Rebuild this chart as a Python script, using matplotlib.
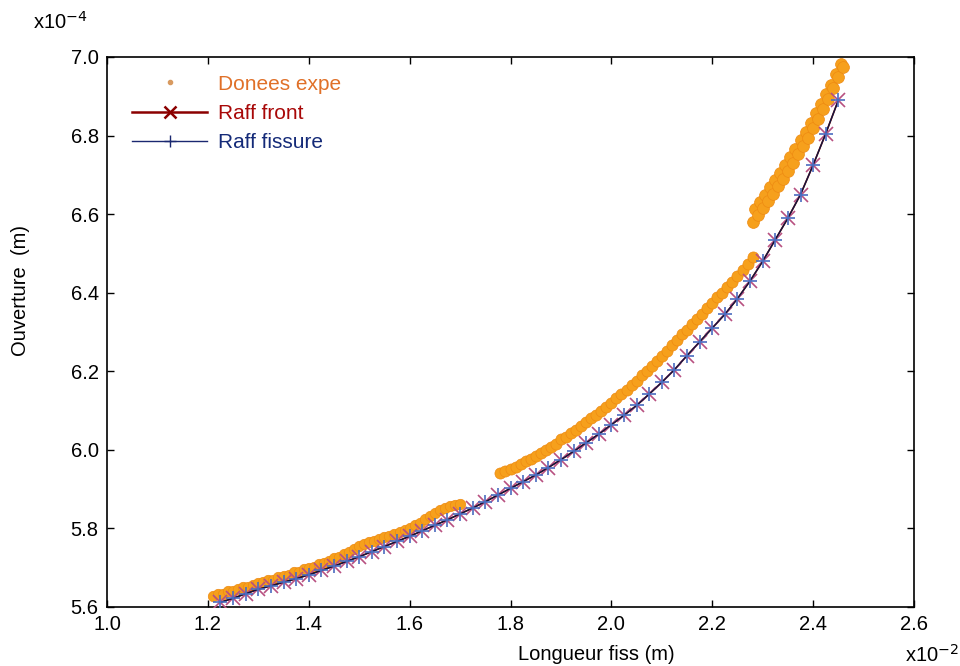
import matplotlib
matplotlib.use("Agg")
import matplotlib.pyplot as plt
from matplotlib.lines import Line2D

plt.rcParams['font.family'] = ['Liberation Sans', 'DejaVu Sans']

# ---- data (x in 1e-2 m, y in 1e-4 m) ----
model_x = [1.225, 1.250, 1.275, 1.300, 1.325, 1.350, 1.375, 1.400, 1.425, 1.450,
           1.475, 1.500, 1.525, 1.550, 1.575, 1.600, 1.625, 1.650, 1.675, 1.700,
           1.725, 1.750, 1.775, 1.800, 1.825, 1.850, 1.875, 1.900, 1.925, 1.950,
           1.975, 2.000, 2.025, 2.050, 2.075, 2.100, 2.125, 2.150, 2.175, 2.200,
           2.225, 2.250, 2.275, 2.300, 2.325, 2.350, 2.375, 2.400, 2.425, 2.450]
model_front_y = [5.612, 5.622, 5.634, 5.645, 5.654, 5.663, 5.672, 5.682, 5.693, 5.704,
                 5.716, 5.728, 5.741, 5.754, 5.767, 5.780, 5.794, 5.808, 5.822, 5.837,
                 5.852, 5.868, 5.885, 5.902, 5.919, 5.936, 5.955, 5.975, 5.996, 6.018,
                 6.040, 6.064, 6.088, 6.113, 6.142, 6.172, 6.204, 6.240, 6.275, 6.310,
                 6.345, 6.385, 6.430, 6.480, 6.535, 6.590, 6.650, 6.725, 6.805, 6.890]
model_fissure_y = list(model_front_y)

expe_x_1 = [1.21, 1.22, 1.23, 1.24, 1.25, 1.26, 1.27, 1.28, 1.29, 1.30,
            1.31, 1.32, 1.33, 1.34, 1.35, 1.36, 1.37, 1.38, 1.39, 1.40,
            1.41, 1.42, 1.43, 1.44, 1.45, 1.46, 1.47, 1.48, 1.49, 1.50,
            1.51, 1.52, 1.53, 1.54, 1.55, 1.56, 1.57, 1.58, 1.59, 1.60,
            1.61, 1.62, 1.63, 1.64, 1.65, 1.66, 1.67, 1.68, 1.69, 1.70]
expe_y_1 = [5.628, 5.632, 5.634, 5.640, 5.641, 5.646, 5.650, 5.652, 5.657, 5.660,
            5.663, 5.668, 5.670, 5.676, 5.678, 5.682, 5.688, 5.690, 5.696, 5.699,
            5.703, 5.709, 5.712, 5.718, 5.724, 5.728, 5.735, 5.740, 5.748, 5.755,
            5.760, 5.765, 5.768, 5.774, 5.777, 5.782, 5.786, 5.791, 5.797, 5.802,
            5.808, 5.815, 5.824, 5.832, 5.840, 5.848, 5.852, 5.856, 5.860, 5.862]

expe_x_2 = [1.78, 1.79, 1.80, 1.81, 1.82, 1.83, 1.84, 1.85, 1.86, 1.87,
            1.88, 1.89, 1.90, 1.91, 1.92, 1.93, 1.94, 1.95, 1.96, 1.97,
            1.98, 1.99, 2.00, 2.01, 2.02, 2.03, 2.04, 2.05, 2.06, 2.07,
            2.08, 2.09, 2.10, 2.11, 2.12, 2.13, 2.14, 2.15, 2.16, 2.17,
            2.18, 2.19, 2.20, 2.21, 2.22, 2.23, 2.24, 2.25, 2.26, 2.27, 2.28]
expe_y_2 = [5.940, 5.946, 5.951, 5.957, 5.964, 5.971, 5.976, 5.985, 5.991, 6.000,
            6.008, 6.015, 6.027, 6.033, 6.044, 6.050, 6.062, 6.070, 6.080, 6.088,
            6.100, 6.110, 6.120, 6.132, 6.142, 6.153, 6.165, 6.176, 6.190, 6.202,
            6.214, 6.226, 6.240, 6.252, 6.266, 6.280, 6.294, 6.306, 6.320, 6.333,
            6.347, 6.361, 6.374, 6.388, 6.400, 6.414, 6.428, 6.442, 6.458, 6.474, 6.490]

expe_x_3 = [2.280, 2.285, 2.290, 2.295, 2.300, 2.305, 2.310, 2.315, 2.320, 2.325,
            2.330, 2.335, 2.340, 2.345, 2.350, 2.355, 2.360, 2.365, 2.370, 2.375,
            2.380, 2.385, 2.390, 2.395, 2.400, 2.405, 2.410, 2.415, 2.420, 2.425,
            2.430, 2.435, 2.440, 2.445, 2.450, 2.455, 2.460]
expe_y_3 = [6.580, 6.612, 6.598, 6.630, 6.615, 6.650, 6.634, 6.668, 6.652, 6.686,
            6.672, 6.705, 6.690, 6.724, 6.710, 6.745, 6.730, 6.766, 6.752, 6.788,
            6.773, 6.810, 6.795, 6.833, 6.820, 6.857, 6.843, 6.880, 6.868, 6.905,
            6.893, 6.930, 6.920, 6.958, 6.948, 6.982, 6.975]

x_ticks = [1.0, 1.2, 1.4, 1.6, 1.8, 2.0, 2.2, 2.4, 2.6]
y_ticks = [5.6, 5.8, 6.0, 6.2, 6.4, 6.6, 6.8, 7.0]
labels = ["Donees expe", "Raff front", "Raff fissure"]

# ---- figure ----
fig = plt.figure(figsize=(9.6, 6.66), dpi=100)
ax = fig.add_axes([107/960, 1-607/666, (914-107)/960, (607-57)/666])

orange = '#f6a01c'
orange_edge = '#ee8a12'
for xs, ys, m in [(expe_x_1, expe_y_1, 7.5), (expe_x_2, expe_y_2, 8.0), (expe_x_3, expe_y_3, 8.5)]:
    ax.plot(xs, ys, linestyle='none', marker='o', ms=m, mfc=orange, mec=orange_edge,
            mew=0.5, zorder=2)

ax.plot(model_x, model_front_y, color='#8b0000', lw=1.2, marker='x', ms=9.5, mec='#b85080',
        mew=1.2, zorder=3)
ax.plot(model_x, model_fissure_y, color='#101840', lw=1.0, marker='+', ms=9.5, mec='#4a6cc0',
        mew=1.2, zorder=4)

ax.set_xlim(1.0, 2.6)
ax.set_ylim(5.6, 7.0)
ax.set_xticks(x_ticks)
ax.set_yticks(y_ticks)
fs = 14.5
ax.set_xticklabels([f"{v:.1f}" for v in x_ticks], fontsize=fs)
ax.set_yticklabels([f"{v:.1f}" for v in y_ticks], fontsize=fs)
ax.tick_params(direction='in', top=True, right=True, length=5, width=1, pad=6)
for s in ax.spines.values():
    s.set_linewidth(1.2)

ax.set_xlabel("Longueur fiss (m)", fontsize=fs)
ax.xaxis.set_label_coords((596-107)/807, -(655-607)/550)
ax.xaxis.label.set_va('center')
ax.set_ylabel("Ouverture  (m)", fontsize=fs)
ax.yaxis.set_label_coords(-(107-21)/807, 1-(290-57)/550)
ax.yaxis.label.set_va('center')

fig.text(932/960, 1-655/666, r"x10$^{-2}$", fontsize=fs, ha='center', va='center')
fig.text(60/960, 1-22/666, r"x10$^{-4}$", fontsize=fs, ha='center', va='center')

handles = [
    Line2D([], [], linestyle='none', marker='o', ms=3, mfc='#d89a60', mec='#d89a60'),
    Line2D([], [], color='#8b0000', lw=1.8, marker='x', ms=9, mec='#8b0000', mew=1.8),
    Line2D([], [], color='#1a2870', lw=1.0, marker='+', ms=9, mec='#1a2870', mew=1.0),
]
leg = ax.legend(handles, labels, loc='upper left', bbox_to_anchor=(0.008, 1.002),
                frameon=False, fontsize=15, handlelength=3.6, handletextpad=0.5,
                labelspacing=0.5, labelcolor=['#e07028', '#a80808', '#142a78'])

fig.savefig("out.png", dpi=100)
